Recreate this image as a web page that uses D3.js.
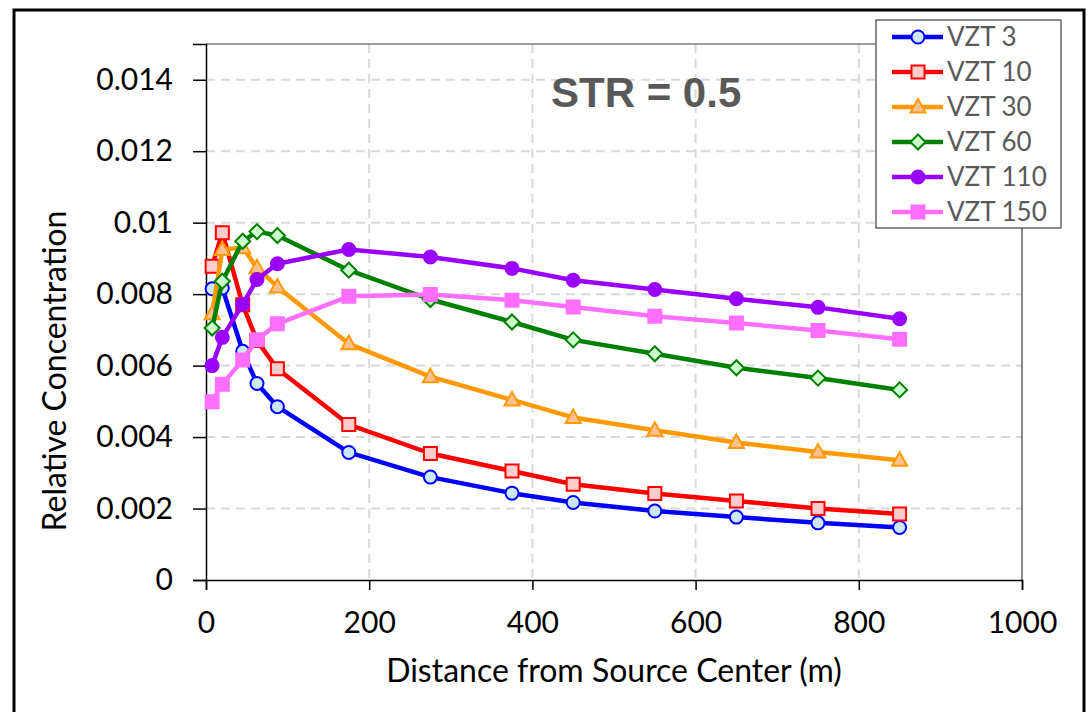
<!DOCTYPE html>
<html>
<head>
<meta charset="utf-8">
<script src="https://cdn.jsdelivr.net/npm/d3@7"></script>
<style>
  body { margin: 0; background: #fff; }
  svg { display: block; }
</style>
</head>
<body>
<div id="chart"></div>
<script>
// distances (m) and relative concentrations
const distance = [7.5, 20, 45, 62.5, 87.5, 175, 275, 375, 450, 550, 650, 750, 850];
const vzt3   = [0.00815, 0.00817, 0.0064, 0.0055, 0.00485, 0.00357, 0.00288, 0.00243, 0.00217, 0.00193, 0.00176, 0.0016, 0.00147];
const vzt10  = [0.00878, 0.00972, 0.0077, 0.0067, 0.00591, 0.00435, 0.00354, 0.00305, 0.00268, 0.00242, 0.00221, 0.002, 0.00185];
const vzt30  = [0.00745, 0.00925, 0.0093, 0.00874, 0.0082, 0.00661, 0.00569, 0.00504, 0.00455, 0.00419, 0.00385, 0.00358, 0.00335];
const vzt60  = [0.00705, 0.00836, 0.00948, 0.00975, 0.00964, 0.00867, 0.00785, 0.00722, 0.00672, 0.00633, 0.00594, 0.00565, 0.00532];
const vzt110 = [0.0060, 0.00679, 0.00772, 0.00841, 0.00885, 0.00925, 0.00904, 0.00872, 0.00839, 0.00813, 0.00787, 0.00763, 0.00731];
const vzt150 = [0.00499, 0.00548, 0.00616, 0.00672, 0.00717, 0.00794, 0.00799, 0.00783, 0.00764, 0.00738, 0.00719, 0.00698, 0.00674];

const seriesNames = ["VZT 3", "VZT 10", "VZT 30", "VZT 60", "VZT 110", "VZT 150"];
const xTicks = [0, 200, 400, 600, 800, 1000];
const yTicks = [0, 0.002, 0.004, 0.006, 0.008, 0.01, 0.012, 0.014];
const yTickLabels = ["0", "0.002", "0.004", "0.006", "0.008", "0.01", "0.012", "0.014"];

const styles = [
  {color: "#0000FF", fill: "#CCE8FA", shape: "circle"},
  {color: "#FF0000", fill: "#FFCCCC", shape: "square"},
  {color: "#FF9900", fill: "#FAC090", shape: "triangle"},
  {color: "#008000", fill: "#CCFFCC", shape: "diamond"},
  {color: "#9900FF", fill: "#9900FF", shape: "circle"},
  {color: "#FF6FFF", fill: "#FF6FFF", shape: "square"}
];

const allValues = [vzt3, vzt10, vzt30, vzt60, vzt110, vzt150];
const series = seriesNames.map((name, i) => ({
  name: name,
  style: styles[i],
  points: distance.map((d, j) => ({x: d, y: allValues[i][j]}))
}));

const W = 1089, H = 712;
const plot = {left: 206, right: 1022, top: 44, bottom: 580};
const font = "Lato, 'Open Sans', sans-serif";

const svg = d3.select("#chart").append("svg").attr("width", W).attr("height", H);

// outer frame
svg.append("rect").attr("x", 14).attr("y", 10).attr("width", 1070).attr("height", 710)
  .attr("fill", "#fff").attr("stroke", "#000").attr("stroke-width", 3);

const xScale = d3.scaleLinear().domain([0, 1000]).range([plot.left, plot.right]);
const yScale = d3.scaleLinear().domain([0, 0.015]).range([plot.bottom, plot.top]);

// gridlines
svg.append("g").selectAll("line").data(yTicks.slice(1)).join("line")
  .attr("x1", plot.left).attr("x2", plot.right)
  .attr("y1", d => yScale(d)).attr("y2", d => yScale(d))
  .attr("stroke", "#D9D9D9").attr("stroke-width", 2).attr("stroke-dasharray", "9,6");
svg.append("g").selectAll("line").data(xTicks.slice(1, -1)).join("line")
  .attr("x1", d => xScale(d)).attr("x2", d => xScale(d))
  .attr("y1", plot.top).attr("y2", plot.bottom)
  .attr("stroke", "#D9D9D9").attr("stroke-width", 2).attr("stroke-dasharray", "9,6");

// plot area border (top/right)
svg.append("path")
  .attr("d", `M${plot.left},${plot.top}H${plot.right}V${plot.bottom}`)
  .attr("fill", "none").attr("stroke", "#404040").attr("stroke-width", 1.2);

// axes
const xAxis = d3.axisBottom(xScale).tickValues(xTicks).tickSize(10).tickPadding(22).tickFormat(d3.format("d"));
const gx = svg.append("g").attr("transform", `translate(0,${plot.bottom})`).call(xAxis);
const yAxis = d3.axisLeft(yScale).tickValues(yTicks).tickSize(13).tickPadding(20)
  .tickFormat((d, i) => yTickLabels[i]);
const gy = svg.append("g").attr("transform", `translate(${plot.left},0)`).call(yAxis);

[gx, gy].forEach(g => {
  g.select(".domain").attr("stroke", "#000").attr("stroke-width", 1.5);
  g.selectAll(".tick line").attr("stroke", "#000").attr("stroke-width", 1.5);
  g.selectAll(".tick text").attr("font-family", font).attr("font-size", 30).attr("fill", "#000");
});
gx.selectAll(".tick text").attr("dy", "0.71em");

// axis titles
svg.append("text").attr("x", 614).attr("y", 682).attr("text-anchor", "middle")
  .attr("font-family", font).attr("font-size", 32).attr("fill", "#000")
  .text("Distance from Source Center (m)");
svg.append("text").attr("transform", "translate(66,371) rotate(-90)").attr("text-anchor", "middle")
  .attr("font-family", font).attr("font-size", 32).attr("fill", "#000")
  .text("Relative Concentration");

// annotation
svg.append("text").attr("x", 551).attr("y", 107)
  .attr("font-family", "'Liberation Sans', Arial, sans-serif").attr("font-weight", "bold")
  .attr("font-size", 42).attr("fill", "#595959")
  .text("STR = 0.5");

// marker shapes
function markerPath(shape) {
  if (shape === "circle") return "M-6.5,0A6.5,6.5 0 1,0 6.5,0A6.5,6.5 0 1,0 -6.5,0Z";
  if (shape === "square") return "M-6.5,-6.5H6.5V6.5H-6.5Z";
  if (shape === "triangle") return "M0,-8L7.5,5.5L-7.5,5.5Z";
  return "M0,-7.5L7.5,0L0,7.5L-7.5,0Z";
}

const line = d3.line().x(d => xScale(d.x)).y(d => yScale(d.y));

series.forEach(s => {
  const g = svg.append("g");
  g.append("path").datum(s.points).attr("d", line)
    .attr("fill", "none").attr("stroke", s.style.color).attr("stroke-width", 4.5)
    .attr("stroke-linejoin", "round");
  g.selectAll("path.m").data(s.points).join("path").attr("class", "m")
    .attr("transform", d => `translate(${xScale(d.x)},${yScale(d.y)})`)
    .attr("d", markerPath(s.style.shape))
    .attr("fill", s.style.fill).attr("stroke", s.style.color).attr("stroke-width", 2);
});

// legend
const legend = svg.append("g");
legend.append("rect").attr("x", 876).attr("y", 20).attr("width", 185).attr("height", 208)
  .attr("fill", "#fff").attr("stroke", "#404040").attr("stroke-width", 1.2);
const items = legend.selectAll("g.item").data(series).join("g").attr("class", "item")
  .attr("transform", (d, i) => `translate(0,${37 + i * 35})`);
items.append("line").attr("x1", 892).attr("x2", 943)
  .attr("stroke", d => d.style.color).attr("stroke-width", 4.5);
items.append("path").attr("transform", "translate(918,0)")
  .attr("d", d => markerPath(d.style.shape))
  .attr("fill", d => d.style.fill).attr("stroke", d => d.style.color).attr("stroke-width", 2);
items.append("text").attr("x", 947).attr("dy", "0.36em")
  .attr("font-family", font).attr("font-size", 26).attr("fill", "#595959")
  .text(d => d.name);
</script>
</body>
</html>
